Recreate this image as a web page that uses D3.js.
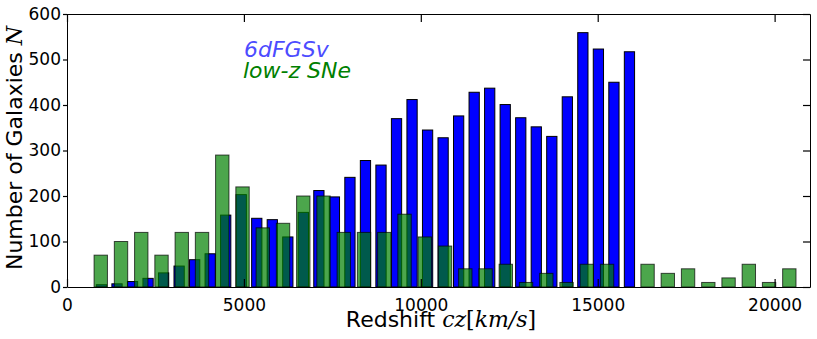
<!DOCTYPE html>
<html><head><meta charset="utf-8">
<script src="https://cdn.jsdelivr.net/npm/d3@7"></script>
<style>body{margin:0;background:#fff}svg{display:block}</style>
</head><body>
<svg id="c" width="817" height="339"></svg>
<script>
const xTicks = [0, 5000, 10000, 15000, 20000];
const yTicks = [0, 100, 200, 300, 400, 500, 600];
const seriesNames = ["6dFGSv", "low-z SNe"];
// 6dFGSv histogram counts (35 bins)
const blueCounts = [5, 7, 12, 19, 31, 46, 60, 73, 158, 203, 151, 148, 110, 164, 212, 198, 241, 278, 268, 370,
  412, 345, 328, 376, 428, 437, 401, 372, 352, 331, 418, 559, 523, 450, 517];
// low-z SNe histogram counts (35 bins)
const greenCounts = [70, 100, 120, 70, 120, 120, 290, 220, 130, 140, 200, 200, 120, 120, 120, 160, 110, 90, 40, 40,
  50, 10, 30, 10, 50, 50, 0, 50, 30, 40, 10, 20, 50, 10, 40];
const blueBinStart = 755, blueBinWidth = 438.9;
const greenBinStart = 668, greenBinWidth = 572.4;

const svg = d3.select("#c");
const xS = d3.scaleLinear().domain([0, 21000]).range([67, 810]);
const yS = d3.scaleLinear().domain([0, 600]).range([287, 14]);
const rw = 0.66;

function bins(counts, start, width) {
  return counts.map((v, i) => ({ x0: start + i * width, x1: start + (i + 1) * width, v }));
}
const blueBins = bins(blueCounts, blueBinStart, blueBinWidth);
const greenBins = bins(greenCounts, greenBinStart, greenBinWidth);

function barX(d) { const c = (xS(d.x0) + xS(d.x1)) / 2, w = (xS(d.x1) - xS(d.x0)) * rw; return c - w / 2; }
function barW(d) { return (xS(d.x1) - xS(d.x0)) * rw; }

svg.append("g").selectAll("rect").data(blueBins).join("rect")
  .attr("x", barX).attr("width", barW)
  .attr("y", d => yS(d.v)).attr("height", d => yS(0) - yS(d.v))
  .attr("fill", "#0000ff").attr("stroke", "#000").attr("stroke-width", 1);

svg.append("g").selectAll("rect").data(greenBins.filter(d => d.v > 0)).join("rect")
  .attr("x", barX).attr("width", barW)
  .attr("y", d => yS(d.v)).attr("height", d => yS(0) - yS(d.v))
  .attr("fill", "#008000").attr("fill-opacity", 0.7)
  .attr("stroke", "#000").attr("stroke-opacity", 0.7).attr("stroke-width", 1);

// Axes
const font = "DejaVu Sans, sans-serif";
const axBottom = d3.axisBottom(xS).tickValues(xTicks).tickSizeInner(-8).tickSizeOuter(0).tickPadding(12).tickFormat(d3.format("d"));
const axTop = d3.axisTop(xS).tickValues(xTicks).tickSizeInner(-8).tickSizeOuter(0).tickFormat("");
const axLeft = d3.axisLeft(yS).tickValues(yTicks).tickSizeInner(4).tickSizeOuter(0).tickPadding(2).tickFormat(d3.format("d"));
const axRight = d3.axisRight(yS).tickValues(yTicks).tickSizeInner(-7).tickSizeOuter(0).tickFormat("");

function style(g) {
  g.select(".domain").attr("stroke", "#000").attr("stroke-width", 1);
  g.selectAll(".tick line").attr("stroke", "#000").attr("stroke-width", 1.2);
  g.selectAll("text").attr("font-family", font).attr("font-size", 17).attr("fill", "#000");
}
svg.append("g").attr("transform", `translate(0,${yS(0)})`).call(axBottom).call(style);
svg.append("g").attr("transform", `translate(0,${yS(600)})`).call(axTop).call(style);
svg.append("g").attr("transform", `translate(${xS(0)},0)`).call(axLeft).call(style);
svg.append("g").attr("transform", `translate(${xS(21000)},0)`).call(axRight).call(style);

// Axis labels
const yl = svg.append("text").attr("transform", "translate(22,148) rotate(-90)")
  .attr("text-anchor", "middle").attr("font-family", font).attr("font-size", 22).attr("fill", "#000");
yl.append("tspan").text("Number of Galaxies ");
yl.append("tspan").attr("font-family", "DejaVu Serif, serif").attr("font-style", "italic").text("N");

const xl = svg.append("text").attr("x", 441).attr("y", 327)
  .attr("text-anchor", "middle").attr("font-family", font).attr("font-size", 22).attr("fill", "#000");
xl.append("tspan").text("Redshift ");
xl.append("tspan").attr("font-family", "DejaVu Serif, serif").attr("font-style", "italic").text("cz");
xl.append("tspan").attr("font-family", "DejaVu Serif, serif").text("[");
xl.append("tspan").attr("font-family", "DejaVu Serif, serif").attr("font-style", "italic").text("km/s");
xl.append("tspan").attr("font-family", "DejaVu Serif, serif").text("]");

// Legend
svg.append("text").attr("x", 244).attr("y", 57).attr("font-family", font).attr("font-style", "italic")
  .attr("font-size", 22).attr("fill", "#4c4cff").text(seriesNames[0]);
svg.append("text").attr("x", 243).attr("y", 78).attr("font-family", font).attr("font-style", "italic")
  .attr("font-size", 22).attr("fill", "#008000").text(seriesNames[1]);
</script>
</body></html>
